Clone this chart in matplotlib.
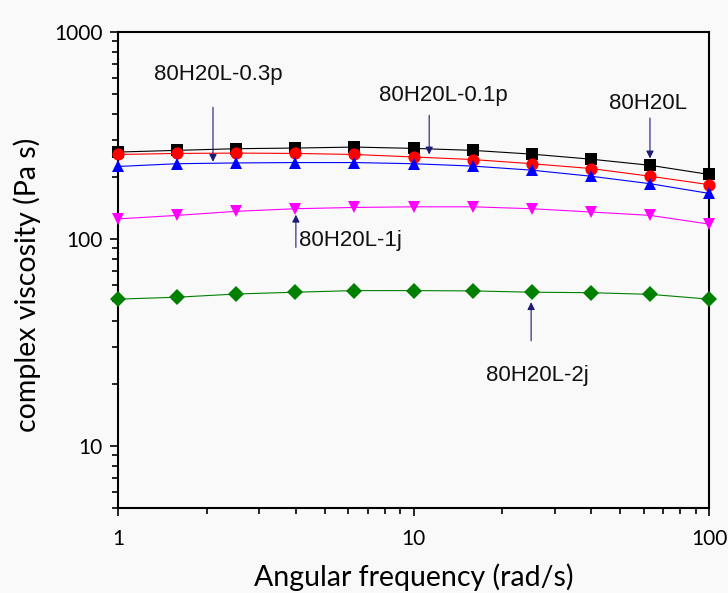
import matplotlib
matplotlib.use("Agg")
import matplotlib.pyplot as plt
from matplotlib.ticker import LogLocator, NullFormatter, FixedLocator, FixedFormatter

# Angular frequency sweep (rad/s), 5 points per decade
freq = [1.0, 1.585, 2.512, 3.981, 6.310, 10.0, 15.85, 25.12, 39.81, 63.10, 100.0]

# Complex viscosity (Pa s)
visc_80H20L = [263, 268, 273, 275, 278, 274, 268, 257, 243, 227, 205]
visc_01p = [256, 259, 260, 259, 256, 249, 242, 231, 219, 201, 183]
visc_03p = [224, 231, 233, 234, 234, 231, 225, 215, 201, 185, 166]
visc_1j = [125, 130, 136, 140, 142, 143, 143, 140, 135, 130, 118]
visc_2j = [51.2, 52.3, 54.2, 55.3, 56.3, 56.3, 56.1, 55.3, 55.0, 54.0, 51.2]

x_ticks = [1, 10, 100]
x_tick_labels = ["1", "10", "100"]
y_ticks = [10, 100, 1000]
y_tick_labels = ["10", "100", "1000"]

label_font = "Lato"
note_font = "Liberation Sans"
arrow_color = "#1c1c78"

fig = plt.figure(figsize=(7.28, 5.93), dpi=100, facecolor="#f9f9f9")
ax = fig.add_axes([0.162, 0.143, 0.812, 0.803])
ax.set_facecolor("#f9f9f9")

series = [
    (visc_80H20L, "black", "s", 8.3),
    (visc_01p, "red", "o", 8.8),
    (visc_03p, "blue", "^", 9.3),
    (visc_1j, "magenta", "v", 9.3),
    (visc_2j, "green", "D", 7.8),
]
for vals, col, mk, ms in series:
    ax.plot(freq, vals, color=col, lw=0.8, marker=mk, ms=ms,
            markeredgewidth=0, clip_on=False, zorder=3)

ax.set_xscale("log")
ax.set_yscale("log")
ax.set_xlim(1, 100)
ax.set_ylim(5, 1000)

ax.xaxis.set_major_locator(FixedLocator(x_ticks))
ax.xaxis.set_major_formatter(FixedFormatter(x_tick_labels))
ax.yaxis.set_major_locator(FixedLocator(y_ticks))
ax.yaxis.set_major_formatter(FixedFormatter(y_tick_labels))
ax.xaxis.set_minor_locator(LogLocator(base=10, subs=range(2, 10)))
ax.yaxis.set_minor_locator(LogLocator(base=10, subs=range(2, 10)))
ax.xaxis.set_minor_formatter(NullFormatter())
ax.yaxis.set_minor_formatter(NullFormatter())

ax.tick_params(which="both", direction="out", top=False, right=False,
               width=1.2, color="black")
ax.tick_params(which="major", length=6)
ax.tick_params(which="minor", length=4)
ax.tick_params(axis="both", which="major", labelsize=15)
ax.tick_params(axis="x", which="major", pad=9)
ax.tick_params(axis="y", which="major", pad=5)
for lbl in ax.get_xticklabels() + ax.get_yticklabels():
    lbl.set_fontfamily(label_font)
for sp in ax.spines.values():
    sp.set_linewidth(1.5)

ax.set_xlabel("Angular frequency (rad/s)", fontsize=20.5, family=label_font,
              labelpad=10)
ax.set_ylabel("complex viscosity (Pa s)", fontsize=20.5, family=label_font)
ax.yaxis.set_label_coords(-0.13, 0.47)

# Sample labels with pointer arrows: (text, arrow tip, arrow tail, text centre)
notes = [
    ("80H20L-0.3p", (2.097, 236), (2.097, 433), (2.18, 620)),
    ("80H20L-0.1p", (11.3, 256), (11.3, 396), (12.6, 495)),
    ("80H20L", (63.1, 245), (63.1, 384), (62.2, 453)),
    ("80H20L-1j", (4.0, 131), (4.0, 91), (6.1, 98)),
    ("80H20L-2j", (25.0, 49.5), (25.0, 32.2), (26.2, 21.8)),
]
for text, tip, tail, pos in notes:
    ax.annotate("", xy=tip, xytext=tail,
                arrowprops=dict(arrowstyle="-|>", color=arrow_color, lw=0.8,
                                mutation_scale=11, shrinkA=0, shrinkB=0),
                zorder=4)
    ax.text(pos[0], pos[1], text, fontsize=16, family=note_font,
            ha="center", va="center", color="#111111", zorder=5)

fig.savefig("out.png", dpi=100, facecolor=fig.get_facecolor())
